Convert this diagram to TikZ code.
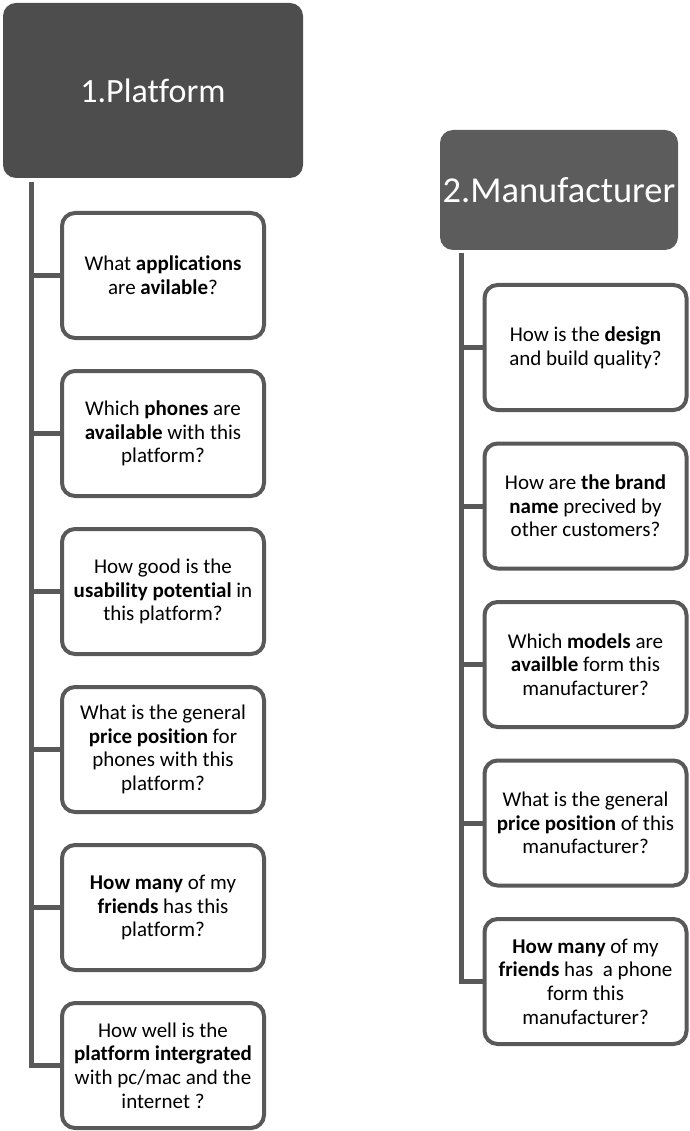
\documentclass[tikz,border=0pt]{standalone}
\usepackage{fontspec}
\setmainfont{Carlito}[Ligatures=NoCommon]
\definecolor{headdark}{HTML}{4D4D4D}
\definecolor{headmid}{HTML}{5C5C5C}
\definecolor{linegray}{HTML}{595959}
\begin{document}
\begin{tikzpicture}[x=1pt,y=-1pt,
  header/.style={rounded corners=13pt, inner sep=0pt, outer sep=0pt,
    text=white, align=center},
  question/.style={draw=linegray, line width=4pt, fill=white,
    rounded corners=13pt, minimum width=202pt, minimum height=125pt,
    inner sep=0pt, outer sep=0pt, align=center,
    font=\fontsize{21}{23.7}\selectfont},
  branch/.style={draw=linegray, line width=5pt, line join=miter}
]
\useasboundingbox (0,0) rectangle (689,1131);

% category headers
\node[header, fill=headdark, minimum width=300pt, minimum height=175pt,
  font=\fontsize{34}{40}\selectfont] (h1) at (153,90.5) {1.Platform};
\node[header, fill=headmid, minimum width=238pt, minimum height=120pt,
  font=\fontsize{36.5}{42}\selectfont] (h2) at (559,190) {2.Manufacturer};

% trunk start points just below the headers
\coordinate (t1) at (31.5,182);
\coordinate (t2) at (461,253);

% platform questions
\node[question] (p1) at (163,275.5) {What \textbf{applications}\\are \textbf{avilable}?};
\node[question] (p2) at (163,433.5) {Which \textbf{phones} are\\\textbf{available} with this\\platform?};
\node[question] (p3) at (163,591.5) {How good is the\\\textbf{usability potential} in\\this platform?};
\node[question] (p4) at (163,749.5) {What is the general\\\textbf{price position} for\\phones with this\\platform?};
\node[question] (p5) at (163,907.5) {\textbf{How many} of my\\\textbf{friends} has this\\platform?};
\node[question] (p6) at (163,1065.5) {How well is the\\\textbf{platform intergrated}\\with pc/mac and the\\internet ?};

% manufacturer questions
\node[question] (m1) at (585.5,347.5) {How is the \textbf{design}\\and build quality?};
\node[question] (m2) at (585.5,506) {How are \textbf{the brand}\\\textbf{name} precived by\\other customers?};
\node[question] (m3) at (585.5,664.5) {Which \textbf{models} are\\\textbf{availble} form this\\manufacturer?};
\node[question] (m4) at (585.5,823) {What is the general\\\textbf{price position} of this\\manufacturer?};
\node[question] (m5) at (585.5,981.5) {\textbf{How many} of my\\\textbf{friends} has~ a phone\\form this\\manufacturer?};

% trunks and branches
\draw[branch] (t1) |- (p6.west);
\foreach \q in {p1,p2,p3,p4,p5}
  \draw[branch] (t1 |- \q.west) -- (\q.west);
\draw[branch] (t2) |- (m5.west);
\foreach \q in {m1,m2,m3,m4}
  \draw[branch] (t2 |- \q.west) -- (\q.west);
\end{tikzpicture}
\end{document}
